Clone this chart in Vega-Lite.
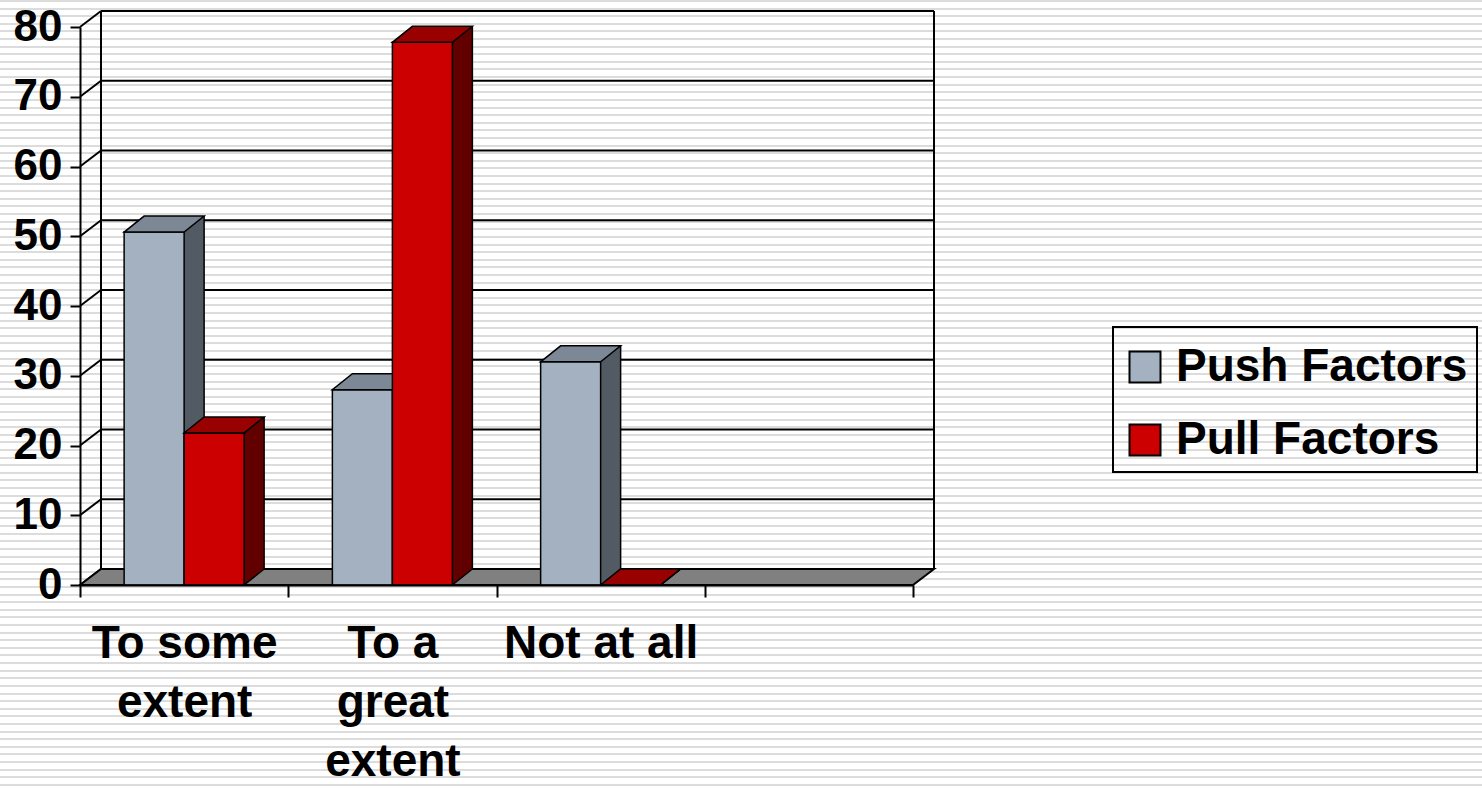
{
  "$schema": "https://vega.github.io/schema/vega-lite/v6.json",
  "width": 1482,
  "height": 791,
  "autosize": "none",
  "padding": 0,
  "background": "#ffffff",
  "datasets": {
    "answers": [
      {"category": "To some extent", "series": "Push Factors", "value": 50.6},
      {"category": "To some extent", "series": "Pull Factors", "value": 21.8},
      {"category": "To a great extent", "series": "Push Factors", "value": 28.0},
      {"category": "To a great extent", "series": "Pull Factors", "value": 77.8},
      {"category": "Not at all", "series": "Push Factors", "value": 32.0},
      {"category": "Not at all", "series": "Pull Factors", "value": 0}
    ],
    "ticks": [
      {"tick": 0}, {"tick": 10}, {"tick": 20}, {"tick": 30}, {"tick": 40},
      {"tick": 50}, {"tick": 60}, {"tick": 70}, {"tick": 80}
    ]
  },
  "data": {"name": "answers"},
  "layer": [
    {
      "data": {"values": [{}]},
      "mark": {
        "type": "rect",
        "fill": {
          "gradient": "linear", "x1": 0, "y1": 0, "x2": 0, "y2": 1,
          "stops": [
            {"offset":0,"color":"#fff"},{"offset":0,"color":"#dcdcdc"},{"offset":0.00253,"color":"#dcdcdc"},{"offset":0.00253,"color":"#fff"},
            {"offset":0.00962,"color":"#fff"},{"offset":0.00962,"color":"#dcdcdc"},{"offset":0.01215,"color":"#dcdcdc"},{"offset":0.01215,"color":"#fff"},
            {"offset":0.01924,"color":"#fff"},{"offset":0.01924,"color":"#dcdcdc"},{"offset":0.02177,"color":"#dcdcdc"},{"offset":0.02177,"color":"#fff"},
            {"offset":0.02886,"color":"#fff"},{"offset":0.02886,"color":"#dcdcdc"},{"offset":0.03139,"color":"#dcdcdc"},{"offset":0.03139,"color":"#fff"},
            {"offset":0.03848,"color":"#fff"},{"offset":0.03848,"color":"#dcdcdc"},{"offset":0.04101,"color":"#dcdcdc"},{"offset":0.04101,"color":"#fff"},
            {"offset":0.04810,"color":"#fff"},{"offset":0.04810,"color":"#dcdcdc"},{"offset":0.05063,"color":"#dcdcdc"},{"offset":0.05063,"color":"#fff"},
            {"offset":0.05772,"color":"#fff"},{"offset":0.05772,"color":"#dcdcdc"},{"offset":0.06025,"color":"#dcdcdc"},{"offset":0.06025,"color":"#fff"},
            {"offset":0.06734,"color":"#fff"},{"offset":0.06734,"color":"#dcdcdc"},{"offset":0.06987,"color":"#dcdcdc"},{"offset":0.06987,"color":"#fff"},
            {"offset":0.07697,"color":"#fff"},{"offset":0.07697,"color":"#dcdcdc"},{"offset":0.07950,"color":"#dcdcdc"},{"offset":0.07950,"color":"#fff"},
            {"offset":0.08659,"color":"#fff"},{"offset":0.08659,"color":"#dcdcdc"},{"offset":0.08912,"color":"#dcdcdc"},{"offset":0.08912,"color":"#fff"},
            {"offset":0.09621,"color":"#fff"},{"offset":0.09621,"color":"#dcdcdc"},{"offset":0.09874,"color":"#dcdcdc"},{"offset":0.09874,"color":"#fff"},
            {"offset":0.10583,"color":"#fff"},{"offset":0.10583,"color":"#dcdcdc"},{"offset":0.10836,"color":"#dcdcdc"},{"offset":0.10836,"color":"#fff"},
            {"offset":0.11545,"color":"#fff"},{"offset":0.11545,"color":"#dcdcdc"},{"offset":0.11798,"color":"#dcdcdc"},{"offset":0.11798,"color":"#fff"},
            {"offset":0.12507,"color":"#fff"},{"offset":0.12507,"color":"#dcdcdc"},{"offset":0.12760,"color":"#dcdcdc"},{"offset":0.12760,"color":"#fff"},
            {"offset":0.13469,"color":"#fff"},{"offset":0.13469,"color":"#dcdcdc"},{"offset":0.13722,"color":"#dcdcdc"},{"offset":0.13722,"color":"#fff"},
            {"offset":0.14431,"color":"#fff"},{"offset":0.14431,"color":"#dcdcdc"},{"offset":0.14684,"color":"#dcdcdc"},{"offset":0.14684,"color":"#fff"},
            {"offset":0.15393,"color":"#fff"},{"offset":0.15393,"color":"#dcdcdc"},{"offset":0.15646,"color":"#dcdcdc"},{"offset":0.15646,"color":"#fff"},
            {"offset":0.16355,"color":"#fff"},{"offset":0.16355,"color":"#dcdcdc"},{"offset":0.16608,"color":"#dcdcdc"},{"offset":0.16608,"color":"#fff"},
            {"offset":0.17317,"color":"#fff"},{"offset":0.17317,"color":"#dcdcdc"},{"offset":0.17570,"color":"#dcdcdc"},{"offset":0.17570,"color":"#fff"},
            {"offset":0.18279,"color":"#fff"},{"offset":0.18279,"color":"#dcdcdc"},{"offset":0.18532,"color":"#dcdcdc"},{"offset":0.18532,"color":"#fff"},
            {"offset":0.19241,"color":"#fff"},{"offset":0.19241,"color":"#dcdcdc"},{"offset":0.19494,"color":"#dcdcdc"},{"offset":0.19494,"color":"#fff"},
            {"offset":0.20203,"color":"#fff"},{"offset":0.20203,"color":"#dcdcdc"},{"offset":0.20456,"color":"#dcdcdc"},{"offset":0.20456,"color":"#fff"},
            {"offset":0.21166,"color":"#fff"},{"offset":0.21166,"color":"#dcdcdc"},{"offset":0.21419,"color":"#dcdcdc"},{"offset":0.21419,"color":"#fff"},
            {"offset":0.22128,"color":"#fff"},{"offset":0.22128,"color":"#dcdcdc"},{"offset":0.22381,"color":"#dcdcdc"},{"offset":0.22381,"color":"#fff"},
            {"offset":0.23090,"color":"#fff"},{"offset":0.23090,"color":"#dcdcdc"},{"offset":0.23343,"color":"#dcdcdc"},{"offset":0.23343,"color":"#fff"},
            {"offset":0.24052,"color":"#fff"},{"offset":0.24052,"color":"#dcdcdc"},{"offset":0.24305,"color":"#dcdcdc"},{"offset":0.24305,"color":"#fff"},
            {"offset":0.25014,"color":"#fff"},{"offset":0.25014,"color":"#dcdcdc"},{"offset":0.25267,"color":"#dcdcdc"},{"offset":0.25267,"color":"#fff"},
            {"offset":0.25976,"color":"#fff"},{"offset":0.25976,"color":"#dcdcdc"},{"offset":0.26229,"color":"#dcdcdc"},{"offset":0.26229,"color":"#fff"},
            {"offset":0.26938,"color":"#fff"},{"offset":0.26938,"color":"#dcdcdc"},{"offset":0.27191,"color":"#dcdcdc"},{"offset":0.27191,"color":"#fff"},
            {"offset":0.27900,"color":"#fff"},{"offset":0.27900,"color":"#dcdcdc"},{"offset":0.28153,"color":"#dcdcdc"},{"offset":0.28153,"color":"#fff"},
            {"offset":0.28862,"color":"#fff"},{"offset":0.28862,"color":"#dcdcdc"},{"offset":0.29115,"color":"#dcdcdc"},{"offset":0.29115,"color":"#fff"},
            {"offset":0.29824,"color":"#fff"},{"offset":0.29824,"color":"#dcdcdc"},{"offset":0.30077,"color":"#dcdcdc"},{"offset":0.30077,"color":"#fff"},
            {"offset":0.30786,"color":"#fff"},{"offset":0.30786,"color":"#dcdcdc"},{"offset":0.31039,"color":"#dcdcdc"},{"offset":0.31039,"color":"#fff"},
            {"offset":0.31748,"color":"#fff"},{"offset":0.31748,"color":"#dcdcdc"},{"offset":0.32001,"color":"#dcdcdc"},{"offset":0.32001,"color":"#fff"},
            {"offset":0.32710,"color":"#fff"},{"offset":0.32710,"color":"#dcdcdc"},{"offset":0.32963,"color":"#dcdcdc"},{"offset":0.32963,"color":"#fff"},
            {"offset":0.33672,"color":"#fff"},{"offset":0.33672,"color":"#dcdcdc"},{"offset":0.33925,"color":"#dcdcdc"},{"offset":0.33925,"color":"#fff"},
            {"offset":0.34635,"color":"#fff"},{"offset":0.34635,"color":"#dcdcdc"},{"offset":0.34888,"color":"#dcdcdc"},{"offset":0.34888,"color":"#fff"},
            {"offset":0.35597,"color":"#fff"},{"offset":0.35597,"color":"#dcdcdc"},{"offset":0.35850,"color":"#dcdcdc"},{"offset":0.35850,"color":"#fff"},
            {"offset":0.36559,"color":"#fff"},{"offset":0.36559,"color":"#dcdcdc"},{"offset":0.36812,"color":"#dcdcdc"},{"offset":0.36812,"color":"#fff"},
            {"offset":0.37521,"color":"#fff"},{"offset":0.37521,"color":"#dcdcdc"},{"offset":0.37774,"color":"#dcdcdc"},{"offset":0.37774,"color":"#fff"},
            {"offset":0.38483,"color":"#fff"},{"offset":0.38483,"color":"#dcdcdc"},{"offset":0.38736,"color":"#dcdcdc"},{"offset":0.38736,"color":"#fff"},
            {"offset":0.39445,"color":"#fff"},{"offset":0.39445,"color":"#dcdcdc"},{"offset":0.39698,"color":"#dcdcdc"},{"offset":0.39698,"color":"#fff"},
            {"offset":0.40407,"color":"#fff"},{"offset":0.40407,"color":"#dcdcdc"},{"offset":0.40660,"color":"#dcdcdc"},{"offset":0.40660,"color":"#fff"},
            {"offset":0.41369,"color":"#fff"},{"offset":0.41369,"color":"#dcdcdc"},{"offset":0.41622,"color":"#dcdcdc"},{"offset":0.41622,"color":"#fff"},
            {"offset":0.42331,"color":"#fff"},{"offset":0.42331,"color":"#dcdcdc"},{"offset":0.42584,"color":"#dcdcdc"},{"offset":0.42584,"color":"#fff"},
            {"offset":0.43293,"color":"#fff"},{"offset":0.43293,"color":"#dcdcdc"},{"offset":0.43546,"color":"#dcdcdc"},{"offset":0.43546,"color":"#fff"},
            {"offset":0.44255,"color":"#fff"},{"offset":0.44255,"color":"#dcdcdc"},{"offset":0.44508,"color":"#dcdcdc"},{"offset":0.44508,"color":"#fff"},
            {"offset":0.45217,"color":"#fff"},{"offset":0.45217,"color":"#dcdcdc"},{"offset":0.45470,"color":"#dcdcdc"},{"offset":0.45470,"color":"#fff"},
            {"offset":0.46179,"color":"#fff"},{"offset":0.46179,"color":"#dcdcdc"},{"offset":0.46432,"color":"#dcdcdc"},{"offset":0.46432,"color":"#fff"},
            {"offset":0.47141,"color":"#fff"},{"offset":0.47141,"color":"#dcdcdc"},{"offset":0.47394,"color":"#dcdcdc"},{"offset":0.47394,"color":"#fff"},
            {"offset":0.48104,"color":"#fff"},{"offset":0.48104,"color":"#dcdcdc"},{"offset":0.48357,"color":"#dcdcdc"},{"offset":0.48357,"color":"#fff"},
            {"offset":0.49066,"color":"#fff"},{"offset":0.49066,"color":"#dcdcdc"},{"offset":0.49319,"color":"#dcdcdc"},{"offset":0.49319,"color":"#fff"},
            {"offset":0.50028,"color":"#fff"},{"offset":0.50028,"color":"#dcdcdc"},{"offset":0.50281,"color":"#dcdcdc"},{"offset":0.50281,"color":"#fff"},
            {"offset":0.50990,"color":"#fff"},{"offset":0.50990,"color":"#dcdcdc"},{"offset":0.51243,"color":"#dcdcdc"},{"offset":0.51243,"color":"#fff"},
            {"offset":0.51952,"color":"#fff"},{"offset":0.51952,"color":"#dcdcdc"},{"offset":0.52205,"color":"#dcdcdc"},{"offset":0.52205,"color":"#fff"},
            {"offset":0.52914,"color":"#fff"},{"offset":0.52914,"color":"#dcdcdc"},{"offset":0.53167,"color":"#dcdcdc"},{"offset":0.53167,"color":"#fff"},
            {"offset":0.53876,"color":"#fff"},{"offset":0.53876,"color":"#dcdcdc"},{"offset":0.54129,"color":"#dcdcdc"},{"offset":0.54129,"color":"#fff"},
            {"offset":0.54838,"color":"#fff"},{"offset":0.54838,"color":"#dcdcdc"},{"offset":0.55091,"color":"#dcdcdc"},{"offset":0.55091,"color":"#fff"},
            {"offset":0.55800,"color":"#fff"},{"offset":0.55800,"color":"#dcdcdc"},{"offset":0.56053,"color":"#dcdcdc"},{"offset":0.56053,"color":"#fff"},
            {"offset":0.56762,"color":"#fff"},{"offset":0.56762,"color":"#dcdcdc"},{"offset":0.57015,"color":"#dcdcdc"},{"offset":0.57015,"color":"#fff"},
            {"offset":0.57724,"color":"#fff"},{"offset":0.57724,"color":"#dcdcdc"},{"offset":0.57977,"color":"#dcdcdc"},{"offset":0.57977,"color":"#fff"},
            {"offset":0.58686,"color":"#fff"},{"offset":0.58686,"color":"#dcdcdc"},{"offset":0.58939,"color":"#dcdcdc"},{"offset":0.58939,"color":"#fff"},
            {"offset":0.59648,"color":"#fff"},{"offset":0.59648,"color":"#dcdcdc"},{"offset":0.59901,"color":"#dcdcdc"},{"offset":0.59901,"color":"#fff"},
            {"offset":0.60610,"color":"#fff"},{"offset":0.60610,"color":"#dcdcdc"},{"offset":0.60863,"color":"#dcdcdc"},{"offset":0.60863,"color":"#fff"},
            {"offset":0.61572,"color":"#fff"},{"offset":0.61572,"color":"#dcdcdc"},{"offset":0.61825,"color":"#dcdcdc"},{"offset":0.61825,"color":"#fff"},
            {"offset":0.62535,"color":"#fff"},{"offset":0.62535,"color":"#dcdcdc"},{"offset":0.62788,"color":"#dcdcdc"},{"offset":0.62788,"color":"#fff"},
            {"offset":0.63497,"color":"#fff"},{"offset":0.63497,"color":"#dcdcdc"},{"offset":0.63750,"color":"#dcdcdc"},{"offset":0.63750,"color":"#fff"},
            {"offset":0.64459,"color":"#fff"},{"offset":0.64459,"color":"#dcdcdc"},{"offset":0.64712,"color":"#dcdcdc"},{"offset":0.64712,"color":"#fff"},
            {"offset":0.65421,"color":"#fff"},{"offset":0.65421,"color":"#dcdcdc"},{"offset":0.65674,"color":"#dcdcdc"},{"offset":0.65674,"color":"#fff"},
            {"offset":0.66383,"color":"#fff"},{"offset":0.66383,"color":"#dcdcdc"},{"offset":0.66636,"color":"#dcdcdc"},{"offset":0.66636,"color":"#fff"},
            {"offset":0.67345,"color":"#fff"},{"offset":0.67345,"color":"#dcdcdc"},{"offset":0.67598,"color":"#dcdcdc"},{"offset":0.67598,"color":"#fff"},
            {"offset":0.68307,"color":"#fff"},{"offset":0.68307,"color":"#dcdcdc"},{"offset":0.68560,"color":"#dcdcdc"},{"offset":0.68560,"color":"#fff"},
            {"offset":0.69269,"color":"#fff"},{"offset":0.69269,"color":"#dcdcdc"},{"offset":0.69522,"color":"#dcdcdc"},{"offset":0.69522,"color":"#fff"},
            {"offset":0.70231,"color":"#fff"},{"offset":0.70231,"color":"#dcdcdc"},{"offset":0.70484,"color":"#dcdcdc"},{"offset":0.70484,"color":"#fff"},
            {"offset":0.71193,"color":"#fff"},{"offset":0.71193,"color":"#dcdcdc"},{"offset":0.71446,"color":"#dcdcdc"},{"offset":0.71446,"color":"#fff"},
            {"offset":0.72155,"color":"#fff"},{"offset":0.72155,"color":"#dcdcdc"},{"offset":0.72408,"color":"#dcdcdc"},{"offset":0.72408,"color":"#fff"},
            {"offset":0.73117,"color":"#fff"},{"offset":0.73117,"color":"#dcdcdc"},{"offset":0.73370,"color":"#dcdcdc"},{"offset":0.73370,"color":"#fff"},
            {"offset":0.74079,"color":"#fff"},{"offset":0.74079,"color":"#dcdcdc"},{"offset":0.74332,"color":"#dcdcdc"},{"offset":0.74332,"color":"#fff"},
            {"offset":0.75041,"color":"#fff"},{"offset":0.75041,"color":"#dcdcdc"},{"offset":0.75294,"color":"#dcdcdc"},{"offset":0.75294,"color":"#fff"},
            {"offset":0.76004,"color":"#fff"},{"offset":0.76004,"color":"#dcdcdc"},{"offset":0.76257,"color":"#dcdcdc"},{"offset":0.76257,"color":"#fff"},
            {"offset":0.76966,"color":"#fff"},{"offset":0.76966,"color":"#dcdcdc"},{"offset":0.77219,"color":"#dcdcdc"},{"offset":0.77219,"color":"#fff"},
            {"offset":0.77928,"color":"#fff"},{"offset":0.77928,"color":"#dcdcdc"},{"offset":0.78181,"color":"#dcdcdc"},{"offset":0.78181,"color":"#fff"},
            {"offset":0.78890,"color":"#fff"},{"offset":0.78890,"color":"#dcdcdc"},{"offset":0.79143,"color":"#dcdcdc"},{"offset":0.79143,"color":"#fff"},
            {"offset":0.79852,"color":"#fff"},{"offset":0.79852,"color":"#dcdcdc"},{"offset":0.80105,"color":"#dcdcdc"},{"offset":0.80105,"color":"#fff"},
            {"offset":0.80814,"color":"#fff"},{"offset":0.80814,"color":"#dcdcdc"},{"offset":0.81067,"color":"#dcdcdc"},{"offset":0.81067,"color":"#fff"},
            {"offset":0.81776,"color":"#fff"},{"offset":0.81776,"color":"#dcdcdc"},{"offset":0.82029,"color":"#dcdcdc"},{"offset":0.82029,"color":"#fff"},
            {"offset":0.82738,"color":"#fff"},{"offset":0.82738,"color":"#dcdcdc"},{"offset":0.82991,"color":"#dcdcdc"},{"offset":0.82991,"color":"#fff"},
            {"offset":0.83700,"color":"#fff"},{"offset":0.83700,"color":"#dcdcdc"},{"offset":0.83953,"color":"#dcdcdc"},{"offset":0.83953,"color":"#fff"},
            {"offset":0.84662,"color":"#fff"},{"offset":0.84662,"color":"#dcdcdc"},{"offset":0.84915,"color":"#dcdcdc"},{"offset":0.84915,"color":"#fff"},
            {"offset":0.85624,"color":"#fff"},{"offset":0.85624,"color":"#dcdcdc"},{"offset":0.85877,"color":"#dcdcdc"},{"offset":0.85877,"color":"#fff"},
            {"offset":0.86586,"color":"#fff"},{"offset":0.86586,"color":"#dcdcdc"},{"offset":0.86839,"color":"#dcdcdc"},{"offset":0.86839,"color":"#fff"},
            {"offset":0.87548,"color":"#fff"},{"offset":0.87548,"color":"#dcdcdc"},{"offset":0.87801,"color":"#dcdcdc"},{"offset":0.87801,"color":"#fff"},
            {"offset":0.88510,"color":"#fff"},{"offset":0.88510,"color":"#dcdcdc"},{"offset":0.88763,"color":"#dcdcdc"},{"offset":0.88763,"color":"#fff"},
            {"offset":0.89473,"color":"#fff"},{"offset":0.89473,"color":"#dcdcdc"},{"offset":0.89726,"color":"#dcdcdc"},{"offset":0.89726,"color":"#fff"},
            {"offset":0.90435,"color":"#fff"},{"offset":0.90435,"color":"#dcdcdc"},{"offset":0.90688,"color":"#dcdcdc"},{"offset":0.90688,"color":"#fff"},
            {"offset":0.91397,"color":"#fff"},{"offset":0.91397,"color":"#dcdcdc"},{"offset":0.91650,"color":"#dcdcdc"},{"offset":0.91650,"color":"#fff"},
            {"offset":0.92359,"color":"#fff"},{"offset":0.92359,"color":"#dcdcdc"},{"offset":0.92612,"color":"#dcdcdc"},{"offset":0.92612,"color":"#fff"},
            {"offset":0.93321,"color":"#fff"},{"offset":0.93321,"color":"#dcdcdc"},{"offset":0.93574,"color":"#dcdcdc"},{"offset":0.93574,"color":"#fff"},
            {"offset":0.94283,"color":"#fff"},{"offset":0.94283,"color":"#dcdcdc"},{"offset":0.94536,"color":"#dcdcdc"},{"offset":0.94536,"color":"#fff"},
            {"offset":0.95245,"color":"#fff"},{"offset":0.95245,"color":"#dcdcdc"},{"offset":0.95498,"color":"#dcdcdc"},{"offset":0.95498,"color":"#fff"},
            {"offset":0.96207,"color":"#fff"},{"offset":0.96207,"color":"#dcdcdc"},{"offset":0.96460,"color":"#dcdcdc"},{"offset":0.96460,"color":"#fff"},
            {"offset":0.97169,"color":"#fff"},{"offset":0.97169,"color":"#dcdcdc"},{"offset":0.97422,"color":"#dcdcdc"},{"offset":0.97422,"color":"#fff"},
            {"offset":0.98131,"color":"#fff"},{"offset":0.98131,"color":"#dcdcdc"},{"offset":0.98384,"color":"#dcdcdc"},{"offset":0.98384,"color":"#fff"},
            {"offset":0.99093,"color":"#fff"},{"offset":0.99093,"color":"#dcdcdc"},{"offset":0.99346,"color":"#dcdcdc"},{"offset":0.99346,"color":"#fff"},
            {"offset":1,"color":"#fff"}
          ]
        }
      },
      "encoding": {}
    },
    {
      "data": {"name": "ticks"},
      "mark": {"type": "rule", "stroke": "#000", "strokeWidth": 2, "xOffset": 21, "x2Offset": 21, "yOffset": -16},
      "encoding": {
        "x": {
          "datum": "To some extent", "type": "nominal", "bandPosition": 0,
          "scale": {"type": "band", "domain": ["To some extent", "To a great extent", "Not at all", " "], "range": [80, 913], "paddingInner": 0, "paddingOuter": 0},
          "axis": {
            "title": null, "orient": "bottom", "offset": -206, "zindex": 1, "tickBand": "extent", "tickSize": 12,
            "labelAngle": 0, "labelFontSize": 46, "labelLineHeight": 59, "labelPadding": 24, "labelOverlap": false, "labelLimit": 400,
            "labelExpr": "datum.value == 'To some extent' ? ['To some', 'extent'] : datum.value == 'To a great extent' ? ['To a', 'great', 'extent'] : datum.value"
          }
        },
        "x2": {"datum": " ", "bandPosition": 1},
        "y": {
          "field": "tick", "type": "quantitative",
          "scale": {"domain": [0, 80], "range": [585, 27], "nice": false, "zero": true},
          "axis": {"title": null, "orient": "left", "offset": -80, "zindex": 1, "values": [0, 10, 20, 30, 40, 50, 60, 70, 80], "tickSize": 10, "labelFontSize": 44, "labelPadding": 8}
        }
      }
    },
    {
      "data": {"name": "ticks"},
      "mark": {"type": "rule", "stroke": "#000", "strokeWidth": 2, "x2Offset": 21, "y2Offset": -16},
      "encoding": {
        "x": {"datum": "To some extent", "type": "nominal", "bandPosition": 0},
        "x2": {"datum": "To some extent", "bandPosition": 0},
        "y": {"field": "tick", "type": "quantitative"},
        "y2": {"field": "tick"}
      }
    },
    {
      "data": {"values": [{}]},
      "mark": {"type": "rule", "stroke": "#000", "strokeWidth": 2, "xOffset": 21, "yOffset": -16, "y2Offset": -16},
      "encoding": {
        "x": {"datum": "To some extent", "type": "nominal", "bandPosition": 0},
        "y": {"datum": 0, "type": "quantitative"},
        "y2": {"datum": 80}
      }
    },
    {
      "data": {"values": [{}]},
      "mark": {"type": "rule", "stroke": "#000", "strokeWidth": 2, "xOffset": 21, "yOffset": -16, "y2Offset": -16},
      "encoding": {
        "x": {"datum": " ", "type": "nominal", "bandPosition": 1},
        "y": {"datum": 0, "type": "quantitative"},
        "y2": {"datum": 80}
      }
    },
    {
      "data": {"values": [{}]},
      "mark": {"type": "point", "shape": "M0,0L833,0L854,-16L21,-16Z", "size": 4, "filled": true, "fill": "#808080", "stroke": "#000", "strokeWidth": 2, "opacity": 1},
      "encoding": {
        "x": {"datum": "To some extent", "type": "nominal", "bandPosition": 0},
        "y": {"datum": 0, "type": "quantitative"}
      }
    },
    {
      "transform": [{"filter": "datum.series === 'Push Factors'"}],
      "layer": [
        {
          "mark": {"type": "bar", "width": 60, "xOffset": -10, "yOffset": -16, "y2Offset": -16, "fill": "#525a64", "strokeWidth": 0},
          "encoding": {
            "x": {"field": "category", "type": "nominal"},
            "y": {"field": "value", "type": "quantitative", "stack": null},
            "y2": {"datum": 0}
          }
        },
        {
          "mark": {"type": "point", "shape": "M0,0L0,-16L20,-16Z", "size": 4, "filled": true, "fill": "#525a64", "strokeWidth": 0, "opacity": 1},
          "encoding": {
            "x": {"field": "category", "type": "nominal"},
            "y": {"datum": 0, "type": "quantitative"}
          }
        },
        {
          "mark": {"type": "bar", "width": 60, "xOffset": -30, "stroke": "#000", "strokeWidth": 1.5},
          "encoding": {
            "x": {"field": "category", "type": "nominal"},
            "y": {"field": "value", "type": "quantitative", "stack": null},
            "y2": {"datum": 0},
            "fill": {
              "field": "series", "type": "nominal",
              "scale": {"domain": ["Push Factors", "Pull Factors"], "range": ["#a3b1c0", "#cc0000"]},
              "legend": {"title": " "}
            }
          }
        },
        {
          "mark": {"type": "point", "shape": "M-30,0L30,0L50,-16L-10,-16Z", "size": 4, "xOffset": -30, "filled": true, "fill": "#7c8896", "stroke": "#000", "strokeWidth": 1.5, "opacity": 1},
          "encoding": {
            "x": {"field": "category", "type": "nominal"},
            "y": {"field": "value", "type": "quantitative"}
          }
        },
        {
          "mark": {"type": "rule", "stroke": "#000", "strokeWidth": 1.5, "xOffset": 20, "yOffset": -16, "y2Offset": -16},
          "encoding": {
            "x": {"field": "category", "type": "nominal"},
            "y": {"field": "value", "type": "quantitative"},
            "y2": {"datum": 0}
          }
        },
        {
          "mark": {"type": "rule", "stroke": "#000", "strokeWidth": 1.5, "x2Offset": 20, "y2Offset": -16},
          "encoding": {
            "x": {"field": "category", "type": "nominal"},
            "x2": {"field": "category"},
            "y": {"datum": 0, "type": "quantitative"},
            "y2": {"datum": 0}
          }
        }
      ]
    },
    {
      "transform": [{"filter": "datum.series === 'Pull Factors'"}],
      "layer": [
        {
          "mark": {"type": "bar", "width": 60, "xOffset": 50, "yOffset": -16, "y2Offset": -16, "fill": "#620000", "strokeWidth": 0},
          "encoding": {
            "x": {"field": "category", "type": "nominal"},
            "y": {"field": "value", "type": "quantitative", "stack": null},
            "y2": {"datum": 0}
          }
        },
        {
          "mark": {"type": "point", "shape": "M0,0L0,-16L20,-16Z", "size": 4, "xOffset": 60, "filled": true, "fill": "#620000", "strokeWidth": 0, "opacity": 1},
          "encoding": {
            "x": {"field": "category", "type": "nominal"},
            "y": {"datum": 0, "type": "quantitative"}
          }
        },
        {
          "mark": {"type": "bar", "width": 60, "xOffset": 30, "stroke": "#000", "strokeWidth": 1.5},
          "encoding": {
            "x": {"field": "category", "type": "nominal"},
            "y": {"field": "value", "type": "quantitative", "stack": null},
            "y2": {"datum": 0},
            "fill": {
              "field": "series", "type": "nominal",
              "scale": {"domain": ["Push Factors", "Pull Factors"], "range": ["#a3b1c0", "#cc0000"]},
              "legend": {"title": " "}
            }
          }
        },
        {
          "mark": {"type": "point", "shape": "M-30,0L30,0L50,-16L-10,-16Z", "size": 4, "xOffset": 30, "filled": true, "fill": "#990000", "stroke": "#000", "strokeWidth": 1.5, "opacity": 1},
          "encoding": {
            "x": {"field": "category", "type": "nominal"},
            "y": {"field": "value", "type": "quantitative"}
          }
        },
        {
          "mark": {"type": "rule", "stroke": "#000", "strokeWidth": 1.5, "xOffset": 80, "yOffset": -16, "y2Offset": -16},
          "encoding": {
            "x": {"field": "category", "type": "nominal"},
            "y": {"field": "value", "type": "quantitative"},
            "y2": {"datum": 0}
          }
        },
        {
          "mark": {"type": "rule", "stroke": "#000", "strokeWidth": 1.5, "xOffset": 60, "x2Offset": 80, "y2Offset": -16},
          "encoding": {
            "x": {"field": "category", "type": "nominal"},
            "x2": {"field": "category"},
            "y": {"datum": 0, "type": "quantitative"},
            "y2": {"datum": 0}
          }
        }
      ]
    }
  ],
  "config": {
    "view": {"stroke": null},
    "font": "Liberation Sans",
    "axis": {
      "domainColor": "#000", "domainWidth": 2, "tickColor": "#000", "tickWidth": 2,
      "labelColor": "#000", "labelFont": "Liberation Sans", "labelFontWeight": "bold",
      "grid": false
    },
    "legend": {
      "orient": "none", "legendX": 1113, "legendY": 327, "direction": "vertical",
      "titleFontSize": 6, "titlePadding": 2,
      "symbolType": "square", "symbolSize": 961, "symbolStrokeColor": "#000", "symbolStrokeWidth": 2, "symbolOpacity": 1,
      "labelFont": "Liberation Sans", "labelFontWeight": "bold", "labelFontSize": 46, "labelColor": "#000",
      "labelOffset": 8, "labelLimit": 1000, "rowPadding": 27, "padding": 9,
      "strokeColor": "#000", "strokeWidth": 2, "zindex": 1
    }
  }
}
